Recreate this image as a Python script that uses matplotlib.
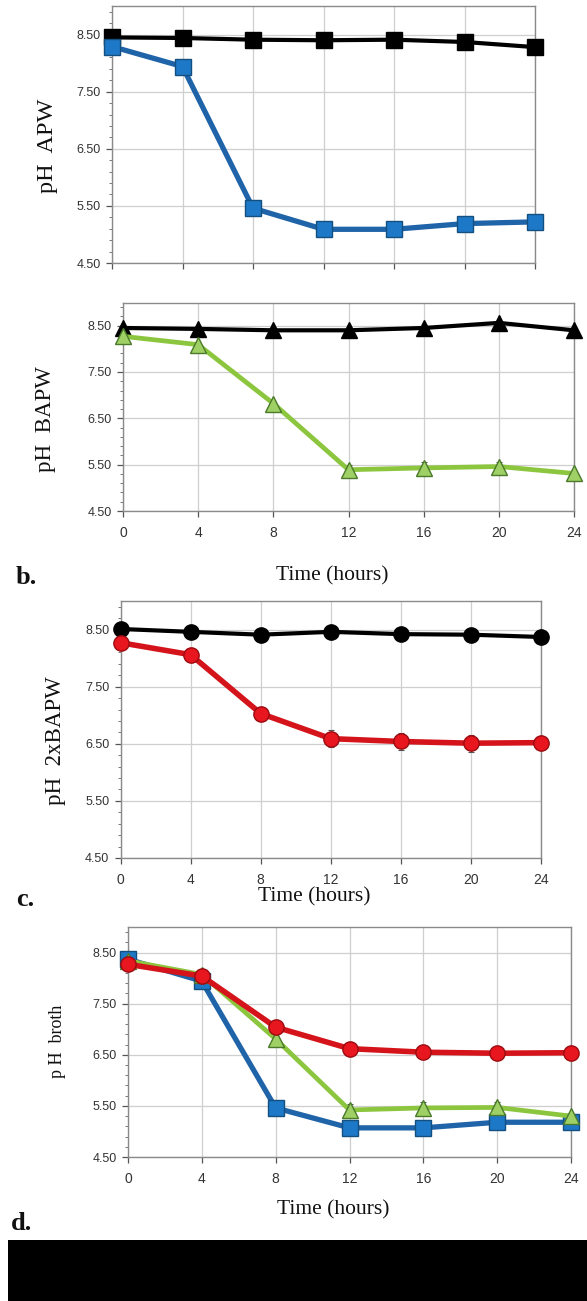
import numpy as np
import matplotlib
matplotlib.use("Agg")
import matplotlib.pyplot as plt
from matplotlib.patches import Rectangle
from matplotlib.ticker import FixedLocator

# ---- data -------------------------------------------------------------
hours = [0, 4, 8, 12, 16, 20, 24]
x_tick_labels = ["0", "4", "8", "12", "16", "20", "24"]
y_ticks = [4.5, 5.5, 6.5, 7.5, 8.5]
y_tick_labels = ["4.50", "5.50", "6.50", "7.50", "8.50"]

apw_control = [8.45, 8.44, 8.41, 8.40, 8.41, 8.37, 8.28]
apw_culture = [8.29, 7.94, 5.46, 5.09, 5.09, 5.19, 5.22]

bapw_control = [8.45, 8.43, 8.40, 8.40, 8.45, 8.56, 8.40]
bapw_culture = [8.27, 8.09, 6.82, 5.39, 5.43, 5.46, 5.31]
bapw_culture_err = [0.0, 0.0, 0.0, 0.10, 0.12, 0.10, 0.0]

bapw2x_control = [8.51, 8.46, 8.41, 8.46, 8.42, 8.41, 8.37]
bapw2x_control_err = [0.0, 0.0, 0.0, 0.05, 0.06, 0.05, 0.05]
bapw2x_culture = [8.27, 8.06, 7.03, 6.59, 6.54, 6.51, 6.52]
bapw2x_culture_err = [0.0, 0.0, 0.0, 0.15, 0.15, 0.15, 0.12]

broth_apw = [8.37, 7.94, 5.46, 5.07, 5.07, 5.18, 5.18]
broth_bapw = [8.34, 8.07, 6.81, 5.42, 5.46, 5.47, 5.30]
broth_bapw_err = [0.0, 0.0, 0.0, 0.12, 0.12, 0.10, 0.0]
broth_2xbapw = [8.27, 8.04, 7.04, 6.62, 6.55, 6.53, 6.54]
broth_2xbapw_err = [0.0, 0.0, 0.0, 0.10, 0.08, 0.08, 0.0]

# ---- styling ----------------------------------------------------------
W, H = 587, 1301
DPI = 100
fig = plt.figure(figsize=(W / DPI, H / DPI), dpi=DPI, facecolor="white")

TICK_FONT = ["Liberation Sans", "DejaVu Sans"]
SERIF = ["Liberation Serif", "DejaVu Serif"]

BLUE_LINE, BLUE_FACE, BLUE_EDGE = "#1f63a8", "#1e78c8", "#14507f"
GREEN_LINE, GREEN_FACE, GREEN_EDGE = "#8cc63f", "#9fd065", "#4a7a2a"
RED_LINE, RED_FACE, RED_EDGE = "#d4141a", "#e8161e", "#9a0b10"
BLACK = "#000000"


def px_axes(left, top, right, bottom):
    return fig.add_axes([left / W, 1 - bottom / H, (right - left) / W, (bottom - top) / H])


def style_axes(ax, show_xlabels=True):
    ax.set_xlim(0, 24)
    ax.set_ylim(4.5, 9.0)
    ax.set_xticks(hours)
    ax.set_yticks(y_ticks)
    ax.yaxis.set_minor_locator(FixedLocator(np.arange(4.5, 9.001, 0.2)))
    ax.set_yticklabels(y_tick_labels, family=TICK_FONT, fontsize=9, color="#333333")
    if show_xlabels:
        ax.set_xticklabels(x_tick_labels, family=TICK_FONT, fontsize=10, color="#333333")
    else:
        ax.set_xticklabels([])
    ax.tick_params(axis="both", which="major", direction="out", length=4, width=0.9,
                   color="#555555")
    ax.tick_params(axis="y", which="minor", direction="out", length=2, width=0.7,
                   color="#777777")
    ax.tick_params(axis="x", pad=7)
    ax.tick_params(axis="y", pad=4)
    ax.grid(True, which="major", color="#cfcfcf", linewidth=0.9)
    ax.set_axisbelow(True)
    for s in ax.spines.values():
        s.set_color("#8a8a8a")
        s.set_linewidth(1.0)


def series(ax, y, line, face, edge, marker, ms, lw, err=None, z=3):
    if err is not None:
        ax.errorbar(hours, y, yerr=err, fmt="none", ecolor="#555555", elinewidth=0.8,
                    capsize=2, capthick=0.8, zorder=z - 0.5, clip_on=False)
    ax.plot(hours, y, color=line, linewidth=lw, marker=marker, markersize=ms,
            markerfacecolor=face, markeredgecolor=edge, markeredgewidth=1.0,
            zorder=z, clip_on=False, solid_joinstyle="round")


def ylabel(text, x, y, size):
    fig.text(x / W, 1 - y / H, text, rotation=90, ha="center", va="center",
             family=SERIF, fontsize=size, color="#111111")


def figtext(text, x, y, size, weight="normal", ha="center"):
    fig.text(x / W, 1 - y / H, text, ha=ha, va="center", family=SERIF,
             fontsize=size, fontweight=weight, color="#111111")


# ---- panel: APW -------------------------------------------------------
ax1 = px_axes(112, 6, 535, 263)
style_axes(ax1, show_xlabels=False)
series(ax1, apw_control, BLACK, BLACK, BLACK, "s", 12, 3.0, z=3)
series(ax1, apw_culture, BLUE_LINE, BLUE_FACE, BLUE_EDGE, "s", 12, 3.8, z=4)
ylabel("pH  APW", 47, 146, 17.5)

# ---- panel: BAPW ------------------------------------------------------
ax2 = px_axes(123, 302.5, 574, 511)
style_axes(ax2)
series(ax2, bapw_control, BLACK, BLACK, BLACK, "^", 11, 3.0, z=3)
series(ax2, bapw_culture, GREEN_LINE, GREEN_FACE, GREEN_EDGE, "^", 11, 3.4,
       err=bapw_culture_err, z=4)
ylabel("pH  BAPW", 46, 419, 16.5)
figtext("Time (hours)", 332, 576, 15.5)
figtext("b.", 16, 577, 19, weight="bold", ha="left")

# ---- panel: 2xBAPW ----------------------------------------------------
ax3 = px_axes(120.5, 601, 541, 858)
style_axes(ax3)
series(ax3, bapw2x_control, BLACK, BLACK, BLACK, "o", 11, 3.0,
       err=bapw2x_control_err, z=3)
series(ax3, bapw2x_culture, RED_LINE, RED_FACE, RED_EDGE, "o", 11, 4.0,
       err=bapw2x_culture_err, z=4)
ylabel("pH  2xBAPW", 56, 741, 16.5)
figtext("Time (hours)", 314, 897, 15.5)
figtext("c.", 16, 900, 19, weight="bold", ha="left")

# ---- panel: broth comparison -----------------------------------------
ax4 = px_axes(128, 927, 571, 1157)
style_axes(ax4)
series(ax4, broth_apw, BLUE_LINE, BLUE_FACE, BLUE_EDGE, "s", 11, 3.8, z=3)
series(ax4, broth_bapw, GREEN_LINE, GREEN_FACE, GREEN_EDGE, "^", 11, 3.4,
       err=broth_bapw_err, z=4)
series(ax4, broth_2xbapw, RED_LINE, RED_FACE, RED_EDGE, "o", 11, 4.0,
       err=broth_2xbapw_err, z=5)
ylabel("p H  broth", 58, 1041, 13)
figtext("Time (hours)", 333, 1210, 15.5)
figtext("d.", 11, 1224, 19, weight="bold", ha="left")

# solid footer band
fig.patches.append(Rectangle((8 / W, 0), 1 - 8 / W, 61 / H, transform=fig.transFigure,
                             facecolor="black", edgecolor="none", zorder=10))

fig.savefig("out.png", dpi=DPI, facecolor="white")
